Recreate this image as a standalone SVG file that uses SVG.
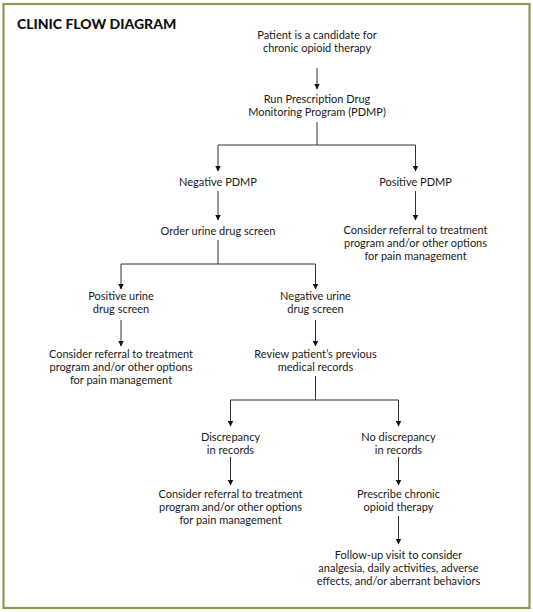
<svg xmlns="http://www.w3.org/2000/svg" width="533" height="612" viewBox="0 0 533 612">
<style>
.t{font-family:"Lato","Liberation Sans",sans-serif;font-size:11px;fill:#1a1a1a;text-anchor:middle}
.title{font-family:"Lato","Liberation Sans",sans-serif;font-size:14px;font-weight:900;fill:#111}
.c{stroke:#333;stroke-width:1;fill:none}
</style>
<defs>
<marker id="ah" viewBox="0 0 6 8" refX="5.5" refY="4" markerWidth="6" markerHeight="8" markerUnits="userSpaceOnUse" orient="auto">
<path d="M0,1 L6,4 L0,7 z" fill="#111"/>
</marker>
</defs>
<rect x="0" y="0" width="533" height="612" fill="#fff"/>
<rect x="3.5" y="4" width="526" height="604" fill="#fff" stroke="#8a9a55" stroke-width="2.2"/>
<text class="title" x="17" y="29">CLINIC FLOW DIAGRAM</text>
<g id="connectors">
<path class="c" d="M317,68 V89" marker-end="url(#ah)"/>
<path class="c" d="M317,122 V145"/>
<path class="c" d="M218,145 H415.5"/>
<path class="c" d="M218,145 V171" marker-end="url(#ah)"/>
<path class="c" d="M415.5,145 V171" marker-end="url(#ah)"/>
<path class="c" d="M218,191 V220" marker-end="url(#ah)"/>
<path class="c" d="M415.5,191 V220" marker-end="url(#ah)"/>
<path class="c" d="M218,240 V264"/>
<path class="c" d="M121,264 H315.5"/>
<path class="c" d="M121,264 V289" marker-end="url(#ah)"/>
<path class="c" d="M315.5,264 V289" marker-end="url(#ah)"/>
<path class="c" d="M121,320 V346" marker-end="url(#ah)"/>
<path class="c" d="M315.5,320 V346" marker-end="url(#ah)"/>
<path class="c" d="M315.5,376 V400"/>
<path class="c" d="M230.5,400 H398.5"/>
<path class="c" d="M230.5,400 V426" marker-end="url(#ah)"/>
<path class="c" d="M398.5,400 V426" marker-end="url(#ah)"/>
<path class="c" d="M230.5,457 V485" marker-end="url(#ah)"/>
<path class="c" d="M398.5,457 V485" marker-end="url(#ah)"/>
<path class="c" d="M398.5,516 V544" marker-end="url(#ah)"/>
</g>
<g id="start"><text class="t" x="317" y="39">Patient is a candidate for</text><text class="t" x="317" y="52">chronic opioid therapy</text></g>
<g id="pdmp"><text class="t" x="317" y="103">Run Prescription Drug</text><text class="t" x="317" y="116">Monitoring Program (PDMP)</text></g>
<g id="negpdmp"><text class="t" x="218" y="185.5">Negative PDMP</text></g>
<g id="pospdmp"><text class="t" x="415.5" y="185.5">Positive PDMP</text></g>
<g id="order"><text class="t" x="218" y="234.5">Order urine drug screen</text></g>
<g id="refer1"><text class="t" x="415.5" y="234">Consider referral to treatment</text><text class="t" x="415.5" y="247">program and/or other options</text><text class="t" x="415.5" y="260">for pain management</text></g>
<g id="posurine"><text class="t" x="121" y="300">Positive urine</text><text class="t" x="121" y="313">drug screen</text></g>
<g id="negurine"><text class="t" x="315.5" y="300">Negative urine</text><text class="t" x="315.5" y="313">drug screen</text></g>
<g id="refer2"><text class="t" x="121" y="358">Consider referral to treatment</text><text class="t" x="121" y="371">program and/or other options</text><text class="t" x="121" y="384">for pain management</text></g>
<g id="review"><text class="t" x="315.5" y="358">Review patient’s previous</text><text class="t" x="315.5" y="371">medical records</text></g>
<g id="disc"><text class="t" x="230.5" y="441">Discrepancy</text><text class="t" x="230.5" y="454">in records</text></g>
<g id="nodisc"><text class="t" x="398.5" y="441">No discrepancy</text><text class="t" x="398.5" y="454">in records</text></g>
<g id="refer3"><text class="t" x="230.5" y="497.5">Consider referral to treatment</text><text class="t" x="230.5" y="510.5">program and/or other options</text><text class="t" x="230.5" y="523.5">for pain management</text></g>
<g id="prescribe"><text class="t" x="398.5" y="497.5">Prescribe chronic</text><text class="t" x="398.5" y="510.5">opioid therapy</text></g>
<g id="followup"><text class="t" x="398.5" y="558.5">Follow-up visit to consider</text><text class="t" x="398.5" y="571.5">analgesia, daily activities, adverse</text><text class="t" x="398.5" y="584.5">effects, and/or aberrant behaviors</text></g>
</svg>
